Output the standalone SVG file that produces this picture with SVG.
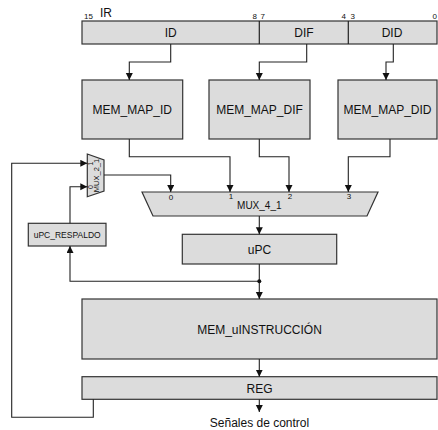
<svg xmlns="http://www.w3.org/2000/svg" width="438" height="430" viewBox="0 0 438 430">
<defs>
<marker id="arr" markerUnits="userSpaceOnUse" markerWidth="8" markerHeight="8" refX="7" refY="3.5" orient="auto">
<path d="M0,0 L7,3.5 L0,7 z" fill="#111"/>
</marker>
<style>
.box{fill:#dcdcdc;stroke:#333;stroke-width:1.2}
.t{font-family:"Liberation Sans",Arial,sans-serif;fill:#111;text-anchor:middle}
.lbl{font-size:12px}
.sm{font-size:8px}
.w{fill:none;stroke:#222;stroke-width:1.1}
</style>
</defs>
<rect width="438" height="430" fill="#fff"/>

<g id="IR">
<rect class="box" x="82" y="21" width="355" height="23"/>
<line x1="259.3" y1="21" x2="259.3" y2="44" stroke="#222" stroke-width="1.2"/>
<line x1="348.3" y1="21" x2="348.3" y2="44" stroke="#222" stroke-width="1.2"/>
<text class="t lbl" x="170.7" y="37">ID</text>
<text class="t lbl" x="304" y="37">DIF</text>
<text class="t lbl" x="392" y="37">DID</text>
<text class="t" x="100" y="17" font-size="12" text-anchor="start" style="text-anchor:start">IR</text>
<text class="t sm" x="84" y="18.5" style="text-anchor:start">15</text>
<text class="t sm" x="252.5" y="18.5" style="text-anchor:start">8</text>
<text class="t sm" x="260.5" y="18.5" style="text-anchor:start">7</text>
<text class="t sm" x="341.5" y="18.5" style="text-anchor:start">4</text>
<text class="t sm" x="350.5" y="18.5" style="text-anchor:start">3</text>
<text class="t sm" x="432.5" y="18.5" style="text-anchor:start">0</text>
</g>

<g id="MEM_MAP_ID">
<rect class="box" x="82" y="80" width="100.7" height="59"/>
<text class="t lbl" x="132.3" y="113.5">MEM_MAP_ID</text>
</g>
<g id="MEM_MAP_DIF">
<rect class="box" x="209" y="80" width="101" height="59"/>
<text class="t lbl" x="259.5" y="113.5">MEM_MAP_DIF</text>
</g>
<g id="MEM_MAP_DID">
<rect class="box" x="338" y="80" width="99" height="59"/>
<text class="t lbl" x="387.5" y="113.5">MEM_MAP_DID</text>
</g>

<g id="MUX_2_1">
<path class="box" d="M87.3,154 L104,160 L104,191 L87.3,196.7 z"/>
<text class="t" font-size="7.5" transform="translate(98.5,175.5) rotate(-90)">MUX_2_1</text>
<text class="t" font-size="7" transform="translate(93,163.5) rotate(-90)">1</text>
<text class="t" font-size="7" transform="translate(93,187) rotate(-90)">0</text>
</g>

<g id="MUX_4_1">
<path class="box" d="M142,192 L378,192 L367,216 L153,216 z"/>
<text class="t" font-size="10" x="259.3" y="208.5">MUX_4_1</text>
<text class="t sm" x="171" y="200">0</text>
<text class="t sm" x="231" y="199">1</text>
<text class="t sm" x="290" y="199">2</text>
<text class="t sm" x="349" y="199">3</text>
</g>

<g id="uPC_RESPALDO">
<rect class="box" x="28.3" y="223.3" width="77.7" height="22.7"/>
<text class="t" font-size="8.5" x="67.2" y="237.8">uPC_RESPALDO</text>
</g>

<g id="uPC">
<rect class="box" x="182.3" y="234.3" width="154.4" height="29.7"/>
<text class="t lbl" x="259.5" y="253.5">uPC</text>
</g>

<g id="MEM_uINSTRUCCION">
<rect class="box" x="82" y="299" width="355" height="60"/>
<text class="t lbl" x="259.5" y="334">MEM_uINSTRUCCIÓN</text>
</g>

<g id="REG">
<rect class="box" x="82" y="376.7" width="355" height="22.6"/>
<text class="t lbl" x="259.5" y="392.5">REG</text>
</g>

<g id="output_label">
<text class="t lbl" x="259.5" y="427">Señales de control</text>
</g>

<g id="connectors">
<path class="w" d="M170.7,44 V62 H129.3 V80" marker-end="url(#arr)"/>
<path class="w" d="M306.7,44 V62 H259.3 V80" marker-end="url(#arr)"/>
<path class="w" d="M393.3,44 V62 H386 V80" marker-end="url(#arr)"/>
<path class="w" d="M129.3,139 V156.7 H230 V192" marker-end="url(#arr)"/>
<path class="w" d="M259.3,139 V156.7 H289 V192" marker-end="url(#arr)"/>
<path class="w" d="M390,139 V156.7 H348.3 V192" marker-end="url(#arr)"/>
<path class="w" d="M104,175 H170.7 V192" marker-end="url(#arr)"/>
<path class="w" d="M259.3,216 V234.3" marker-end="url(#arr)"/>
<path class="w" d="M259.3,264 V299" marker-end="url(#arr)"/>
<path class="w" d="M259.3,281.3 H70 V246" marker-end="url(#arr)"/>
<circle cx="259.3" cy="281.3" r="2" fill="#111"/>
<path class="w" d="M70,223.3 V186.7 H87.3" marker-end="url(#arr)"/>
<path class="w" d="M259.3,359 V376.7" marker-end="url(#arr)"/>
<path class="w" d="M259.3,399.3 V412" marker-end="url(#arr)"/>
<path class="w" d="M93.3,399.3 V417.3 H11.7 V163.3 H87.3" marker-end="url(#arr)"/>
</g>
</svg>
